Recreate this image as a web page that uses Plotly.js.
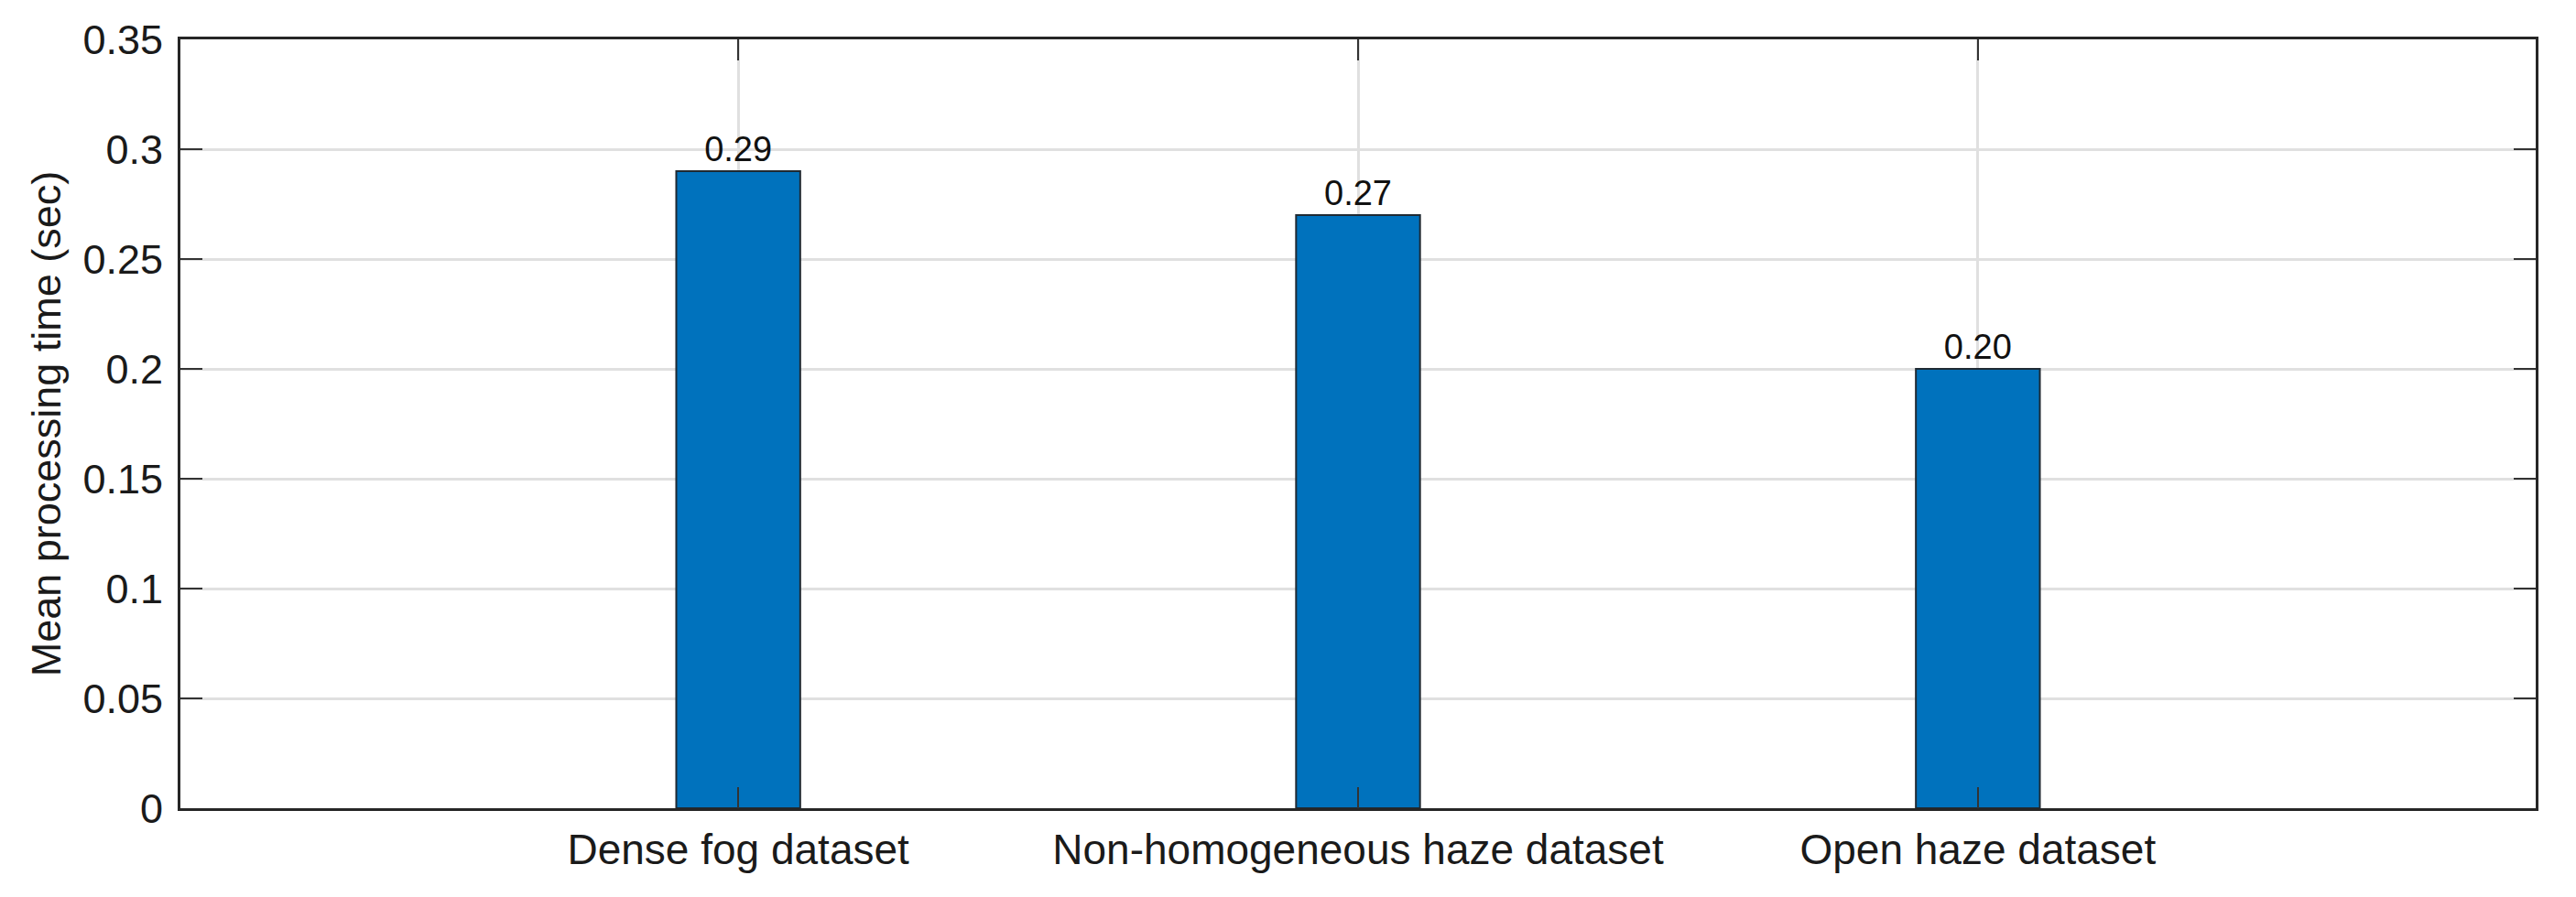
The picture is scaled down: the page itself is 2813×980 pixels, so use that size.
<!DOCTYPE html>
<html>
<head>
<meta charset="utf-8">
<script src="https://cdn.plot.ly/plotly-3.0.1.min.js"></script>
<style>
  body { margin: 0; background: #fff; }
  #grafico { width: 2813px; height: 980px; }
</style>
</head>
<body>
<div id="grafico"></div>
<script>
// datos
var categorias = ['Dense fog dataset', 'Non-homogeneous haze dataset', 'Open haze dataset'];
var tiempos = [0.29, 0.27, 0.20];
var ticksY = [0, 0.05, 0.1, 0.15, 0.2, 0.25, 0.3, 0.35];

var fuente = 'Liberation Sans, Arial, sans-serif';

var barras = {
  x: categorias,
  y: tiempos,
  type: 'bar',
  width: 0.2,
  marker: { color: '#0072BD', line: { color: '#1f2a33', width: 2 } },
  text: tiempos.map(function (v) { return v.toFixed(2); }),
  textposition: 'outside',
  textfont: { family: fuente, size: 38, color: '#111' },
  cliponaxis: false,
  hoverinfo: 'x+y'
};

var layout = {
  width: 2813,
  height: 980,
  margin: { l: 197, r: 44, t: 43, b: 97 },
  paper_bgcolor: '#fff',
  plot_bgcolor: '#fff',
  showlegend: false,
  font: { family: fuente, color: '#1a1a1a' },
  xaxis: {
    type: 'category',
    range: [-0.9, 2.9],
    showline: true, linecolor: '#262626', linewidth: 3, mirror: 'ticks',
    ticks: 'inside', ticklen: 23, tickwidth: 2.5, tickcolor: '#333',
    showgrid: true, gridcolor: '#e0e0e0', gridwidth: 3,
    tickfont: { family: fuente, size: 46, color: '#1a1a1a' },
    ticklabelstandoff: 3,
    zeroline: false, fixedrange: true
  },
  yaxis: {
    range: [0, 0.35],
    tickvals: ticksY,
    ticktext: ticksY.map(String),
    showline: true, linecolor: '#262626', linewidth: 3, mirror: 'ticks',
    ticks: 'inside', ticklen: 24, tickwidth: 2.5, tickcolor: '#333',
    showgrid: true, gridcolor: '#e0e0e0', gridwidth: 3,
    tickfont: { family: fuente, size: 45, color: '#1a1a1a' },
    ticklabelstandoff: 7,
    zeroline: false, fixedrange: true,
    title: { text: 'Mean processing time (sec)', font: { family: fuente, size: 45, color: '#1a1a1a' }, standoff: 10 }
  },
  bargap: 0
};

Plotly.newPlot(document.getElementById('grafico'), [barras], layout, { displayModeBar: false, staticPlot: true });
</script>
</body>
</html>
